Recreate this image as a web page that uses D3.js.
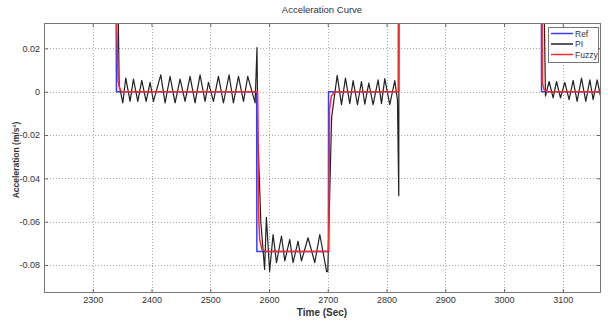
<!DOCTYPE html>
<html>
<head>
<meta charset="utf-8">
<script src="https://cdn.jsdelivr.net/npm/d3@7"></script>
<style>
  body { margin: 0; background: #fff; }
  svg { display: block; font-family: "Liberation Sans", Arial, sans-serif; }
</style>
</head>
<body>
<svg id="chart" width="608" height="322"></svg>
<script>
// values, [time, acceleration]; 0.1 = off the top of the plot
const refPoints = [
    [2217, 0.1], [2339, 0.1], [2340.3, 0], [2579, 0], [2579.3, -0.0737],
    [2701, -0.0737], [2701.3, 0], [2820, 0], [2820.3, 0.1], [3063, 0.1],
    [3063.8, 0], [3166, 0]
];

const piPoints = [
    [2217, 0.1], [2340, 0.1], [2345, 0.003], [2351.1, -0.0052], [2356.2, 0.0063],
    [2363.5, -0.0045], [2369.2, 0.0058], [2376.6, -0.0045], [2383.4, 0.0052],
    [2390.8, -0.0045], [2397.6, 0.0043], [2403.3, -0.0045], [2415.7, 0.0078],
    [2423.1, -0.0052], [2431.6, 0.0071], [2440.1, -0.0052], [2448.6, 0.0058],
    [2457.1, -0.0045], [2465.6, 0.0071], [2474.1, -0.0052], [2482.6, 0.0078],
    [2491.1, -0.0045], [2496.9, 0.0043], [2505.4, -0.0045], [2513.9, 0.0071],
    [2522.4, -0.0052], [2532, 0.0078], [2539.4, -0.0052], [2548, 0.0071],
    [2556.5, -0.0045], [2563.8, 0.0071], [2576.3, -0.0052], [2579.5, 0.0203],
    [2581, -0.02], [2586, -0.06], [2592.5, -0.082], [2595.5, -0.058], [2601, -0.083],
    [2606.9, -0.0659], [2612.7, -0.0789], [2621.2, -0.0666], [2626.8, -0.0781],
    [2635.3, -0.0682], [2640.9, -0.0789], [2649.4, -0.069], [2655.2, -0.0781],
    [2666.4, -0.0674], [2677.8, -0.0789], [2686.4, -0.0659], [2698, -0.083],
    [2700, -0.083], [2706.5, -0.012], [2716, 0.0075], [2723.3, -0.006],
    [2730.1, 0.0063], [2737.4, -0.0055], [2743.1, 0.0051], [2750.5, -0.006],
    [2757.3, 0.0047], [2763, -0.0058], [2769.8, 0.004], [2777.1, -0.006],
    [2785.6, 0.0055], [2791.4, -0.0055], [2797, 0.006], [2805.5, -0.006],
    [2814, 0.0051], [2818.6, -0.004], [2820.8, -0.048], [2821.3, 0.1],
    [3065, 0.1], [3070.5, -0.002], [3076.7, 0.0047], [3083.5, -0.0029],
    [3089.3, 0.0047], [3096, -0.0029], [3103.4, 0.0043], [3110.7, -0.0037],
    [3117.6, 0.0052], [3124.3, -0.0045], [3131.8, 0.0063], [3139.1, -0.0045],
    [3146, 0.0055], [3151.6, -0.0037], [3158.4, 0.0055], [3166, -0.0045]
];

const fuzzyPoints = [
    [2217, 0.1], [2340, 0.1], [2340.8, 0.032], [2343, 0.005], [2345.5, 0.0015],
    [2349, 0], [2580.5, 0], [2582, -0.055], [2584, -0.068], [2588, -0.073],
    [2595, -0.0737], [2701.5, -0.0737], [2703, -0.008], [2706, -0.002], [2712, 0],
    [2820.7, 0], [2821, 0.1], [3064, 0.1], [3065.3, 0.004], [3068, 0.001],
    [3072, 0], [3166, 0]
];

const xTicks = [2300, 2400, 2500, 2600, 2700, 2800, 2900, 3000, 3100];
const yTicks = [0.02, 0, -0.02, -0.04, -0.06, -0.08];

const series = [
    { name: "Ref", data: refPoints, color: "#3a3aff", width: 1.5 },
    { name: "PI", data: piPoints, color: "#222", width: 1.2 },
    { name: "Fuzzy", data: fuzzyPoints, color: "#ff2a2a", width: 1.5 }
];

const plotLeft = 44, plotRight = 601, plotTop = 23, plotBottom = 293;

const svg = d3.select("#chart");

const x = d3.scaleLinear().domain([2217, 3165]).range([plotLeft, plotRight]);
const y = d3.scaleLinear().domain([-0.0929, 0.0317]).range([plotBottom, plotTop]);

const fmt = d => d === 0 ? "0" : d.toFixed(2);

// grid
const grid = svg.append("g")
    .attr("stroke", "#aaa")
    .attr("stroke-width", 1)
    .attr("stroke-dasharray", "1,2");

grid.selectAll(".gx").data(xTicks).join("line")
    .attr("x1", d => Math.round(x(d)) + 0.5).attr("x2", d => Math.round(x(d)) + 0.5)
    .attr("y1", plotTop).attr("y2", plotBottom);

grid.selectAll(".gy").data(yTicks).join("line")
    .attr("y1", d => Math.round(y(d)) + 0.5).attr("y2", d => Math.round(y(d)) + 0.5)
    .attr("x1", plotLeft).attr("x2", plotRight);

// axes, ticks inside like matlab
const axisStyle = g => {
    g.select(".domain").remove();
    g.selectAll(".tick line").attr("stroke", "#666");
    g.selectAll(".tick text").attr("fill", "#333").attr("font-size", 9);
};

svg.append("g")
    .attr("transform", `translate(0,${plotBottom})`)
    .call(d3.axisBottom(x).tickValues(xTicks).tickFormat(d => d).tickSizeInner(-4).tickPadding(4))
    .call(axisStyle);

svg.append("g")
    .attr("transform", `translate(0,${plotTop})`)
    .call(d3.axisTop(x).tickValues(xTicks).tickSizeInner(-4).tickFormat(""))
    .call(axisStyle);

svg.append("g")
    .attr("transform", `translate(${plotLeft},0)`)
    .call(d3.axisLeft(y).tickValues(yTicks).tickFormat(fmt).tickSizeInner(-4).tickPadding(4))
    .call(axisStyle);

svg.append("g")
    .attr("transform", `translate(${plotRight},0)`)
    .call(d3.axisRight(y).tickValues(yTicks).tickSizeInner(-4).tickFormat(""))
    .call(axisStyle);

// lines
svg.append("clipPath").attr("id", "plot-clip")
    .append("rect")
    .attr("x", plotLeft).attr("y", plotTop)
    .attr("width", plotRight - plotLeft).attr("height", plotBottom - plotTop);

const line = d3.line()
    .x(d => x(d[0]))
    .y(d => y(d[1]));

svg.append("g")
    .attr("clip-path", "url(#plot-clip)")
    .selectAll("path")
    .data(series)
    .join("path")
    .attr("fill", "none")
    .attr("stroke", d => d.color)
    .attr("stroke-width", d => d.width)
    .attr("stroke-linejoin", "round")
    .attr("d", d => line(d.data));

// box
svg.append("rect")
    .attr("x", plotLeft + 0.5).attr("y", plotTop + 0.5)
    .attr("width", plotRight - plotLeft - 1).attr("height", plotBottom - plotTop - 1)
    .attr("fill", "none")
    .attr("stroke", "#777");

// legend
const legend = svg.append("g").attr("transform", "translate(548,27)");

legend.append("rect")
    .attr("x", 0.5).attr("y", 0.5)
    .attr("width", 50).attr("height", 35)
    .attr("fill", "#fff")
    .attr("stroke", "#777");

const rows = legend.selectAll(".row").data(series).join("g")
    .attr("transform", (d, i) => `translate(0,${6.5 + i * 10.5})`);

rows.append("line")
    .attr("x1", 3).attr("x2", 25)
    .attr("stroke", d => d.color)
    .attr("stroke-width", 1.5);

rows.append("text")
    .attr("x", 27).attr("y", 3)
    .attr("font-size", 8.5)
    .attr("fill", "#333")
    .text(d => d.name);

// titles
svg.append("text")
    .attr("x", 322).attr("y", 13)
    .attr("text-anchor", "middle")
    .attr("font-size", 9.5)
    .attr("fill", "#333")
    .text("Acceleration Curve");

svg.append("text")
    .attr("x", 322).attr("y", 316)
    .attr("text-anchor", "middle")
    .attr("font-size", 10)
    .attr("font-weight", "bold")
    .attr("fill", "#333")
    .text("Time (Sec)");

svg.append("text")
    .attr("transform", "translate(18.5,160) rotate(-90)")
    .attr("text-anchor", "middle")
    .attr("font-size", 8.5)
    .attr("font-weight", "bold")
    .attr("fill", "#333")
    .text("Acceleration (m/s²)");
</script>
</body>
</html>
